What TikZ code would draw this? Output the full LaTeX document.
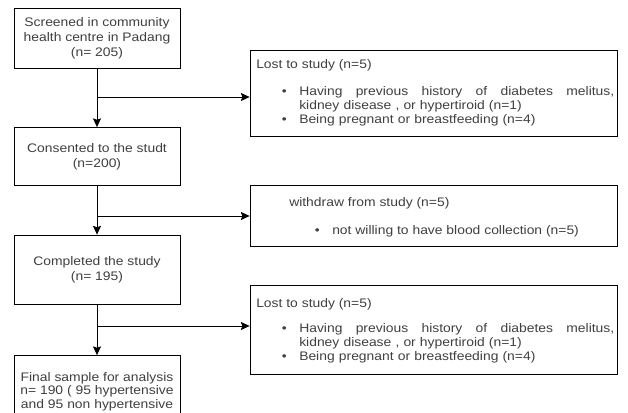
\documentclass[tikz,border=0pt]{standalone}
\usepackage{fontspec}
\setmainfont{Liberation Sans}[FakeStretch=1.12]
\usepackage{tikz}
\usetikzlibrary{arrows.meta}
\definecolor{flowink}{gray}{0}
\definecolor{flowtext}{gray}{0.25}
% bullet hung in the margin, and a line spread to the full list width
\newcommand{\hangbullet}{\leavevmode\llap{\textbullet\hspace{9.4pt}}}
\newcommand{\spreadline}[1]{\hbox to 236.25pt{\spaceskip=.28em plus 1fil #1}}

\begin{document}
\begin{tikzpicture}[
  x=0.75pt,y=-0.75pt,
  stagebox/.style={draw=flowink,line width=0.6pt,fill=white,
    minimum width=124.5pt,inner sep=0pt,align=center,text=flowtext,
    font=\fontsize{9.3}{11.25}\selectfont},
  dropbox/.style={draw=flowink,line width=0.6pt,fill=white,
    minimum width=275.25pt,inner sep=0pt},
  droptext/.style={inner sep=0pt,text=flowtext,font=\fontsize{9.3}{10.5}\selectfont},
  droplist/.style={droptext,text width=236.25pt,align=left},
  flow/.style={-{Stealth[length=6.5pt,width=6pt,inset=1pt]},draw=flowink,line width=0.6pt},
]
  \clip (0,0) rectangle (628,413);

  % Participant flow down the left column.
  \node[stagebox,minimum height=45pt] (screen) at (97,38.5)
    {Screened in community\\health centre in Padang\\(n= 205)};
  \node[stagebox,minimum height=43.5pt] (consent) at (97,156.5)
    {Consented to the studt\\(n=200)};
  \node[stagebox,minimum height=51.75pt] (complete) at (97,269.5)
    {Completed the study\\(n= 195)};
  \node[stagebox,minimum height=54pt,font=\fontsize{9.3}{10.1}\selectfont] (final) at (97,391.5)
    {Final sample for analysis\\n= 190 ( 95 hypertensive\\and 95 non hypertensive};

  % Exclusions branch off to the right.
  \node[dropbox,minimum height=64.5pt] (lostA) at (433.5,93) {};
  \node[droptext,anchor=base west] (lostAhead) at (256,69) {Lost to study (n=5)};
  \node[droplist,anchor=north west] (lostAlist) at (299,86.5)
    {\hangbullet\spreadline{Having previous history of diabetes melitus,}\\
     kidney disease , or hypertiroid (n=1)\\
     \hangbullet Being pregnant or breastfeeding (n=4)};

  \node[dropbox,minimum height=45.75pt] (withdraw) at (433.5,215.5) {};
  \node[droptext,anchor=base west] (withdrawhead) at (289,207) {withdraw from study (n=5)};
  \node[droptext,anchor=base west] (withdrawitem) at (332,234.5)
    {\hangbullet not willing to have blood collection (n=5)};

  \node[dropbox,minimum height=66.75pt] (lostB) at (433.5,329.5) {};
  \node[droptext,anchor=base west] (lostBhead) at (256,307) {Lost to study (n=5)};
  \node[droplist,anchor=north west] (lostBlist) at (299,323.5)
    {\hangbullet\spreadline{Having previous history of diabetes melitus,}\\
     kidney disease , or hypertiroid (n=1)\\
     \hangbullet Being pregnant or breastfeeding (n=4)};

  \coordinate (splitA) at (97,97);
  \coordinate (splitB) at (97,216);
  \coordinate (splitC) at (97,326);

  \draw[flow] (screen) -- (consent);
  \draw[flow] (consent) -- (complete);
  \draw[flow] (complete) -- (final);
  \draw[flow] (splitA) -- (splitA -| lostA.west);
  \draw[flow] (splitB) -- (splitB -| withdraw.west);
  \draw[flow] (splitC) -- (splitC -| lostB.west);
\end{tikzpicture}
\end{document}
